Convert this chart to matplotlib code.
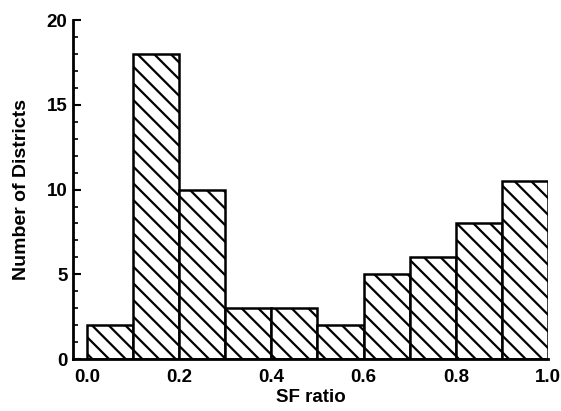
import numpy as np
import matplotlib
matplotlib.use('Agg')
from matplotlib import pyplot as plt

# Histogram of SF ratio per district
bin_edges = [0.0, 0.1, 0.2, 0.3, 0.4, 0.5, 0.6, 0.7, 0.8, 0.9, 1.0]
counts = [2, 18, 10, 3, 3, 2, 5, 6, 8, 10.5]
xticks = [0.0, 0.2, 0.4, 0.6, 0.8, 1.0]
yticks = [0, 5, 10, 15, 20]

plt.rcParams['font.family'] = ['Liberation Sans', 'DejaVu Sans']
plt.rcParams['font.weight'] = 'bold'
plt.rcParams['hatch.linewidth'] = 1.6

fig = plt.figure(figsize=(5.61, 4.11), dpi=100)
ax = fig.add_axes([0.130, 0.1265, 0.847, 0.8245])

widths = np.diff(bin_edges)
ax.bar(bin_edges[:-1], counts, width=widths, align='edge',
       facecolor='white', edgecolor='black', linewidth=1.8, hatch='\\\\')

ax.set_xlim(-0.03, 1.0)
ax.set_ylim(0, 20)
ax.set_xticks(xticks)
ax.set_xticklabels(['%.1f' % v for v in xticks])
ax.set_yticks(yticks)
ax.set_yticks(np.arange(0, 21, 1), minor=True)

ax.spines['top'].set_visible(False)
ax.spines['right'].set_visible(False)
ax.spines['left'].set_linewidth(2)
ax.spines['bottom'].set_linewidth(2)

ax.tick_params(axis='y', which='major', direction='in', length=6, width=1.5,
               labelsize=13.5, pad=4)
ax.tick_params(axis='y', which='minor', direction='in', length=3.5, width=1.2)
ax.tick_params(axis='x', which='major', length=0, labelsize=13.5, pad=7)

ax.set_xlabel('SF ratio', fontsize=13.5, fontweight='bold', labelpad=2)
ax.set_ylabel('Number of Districts', fontsize=14, fontweight='bold', labelpad=12)

fig.savefig('out.png', dpi=100)
